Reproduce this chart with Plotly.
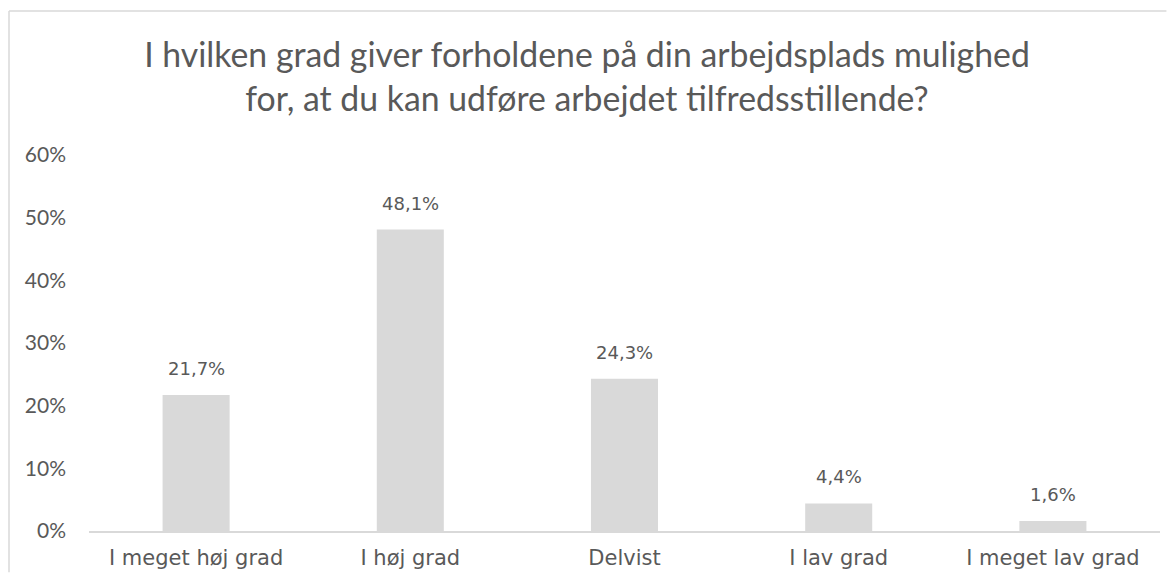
import plotly.graph_objects as go

categories = ["I meget høj grad", "I høj grad", "Delvist", "I lav grad", "I meget lav grad"]
values = [0.217, 0.481, 0.243, 0.044, 0.016]
labels = ["21,7%", "48,1%", "24,3%", "4,4%", "1,6%"]
y_ticks = [0, 0.1, 0.2, 0.3, 0.4, 0.5, 0.6]
y_tick_labels = ["0%", "10%", "20%", "30%", "40%", "50%", "60%"]

text_color = "#595959"
bar_color = "#d9d9d9"
label_font = dict(family="DejaVu Sans", size=18, color=text_color)

fig = go.Figure()
fig.add_trace(
    go.Bar(
        x=categories,
        y=values,
        marker_color=bar_color,
        marker_line_width=0,
        hoverinfo="skip",
    )
)

# data labels sit well above the bars, like Excel's
for cat, val, lab in zip(categories, values, labels):
    fig.add_annotation(
        x=cat, y=val, text=lab,
        showarrow=False, yanchor="bottom", yshift=14,
        font=label_font,
    )

# chart frame: only the top and left edges fall inside the picture
frame = dict(color="#d9d9d9", width=1.5)
fig.add_shape(type="line", xref="paper", yref="paper",
              x0=-0.0747, x1=1.006, y0=1.383, y1=1.383, line=frame)
fig.add_shape(type="line", xref="paper", yref="paper",
              x0=-0.0747, x1=-0.0747, y0=-0.11, y1=1.383, line=frame)

# the page body has an 8px margin all round, so keep the figure 16px smaller
# than the window to avoid scrolling
fig.update_layout(
    title=dict(
        text="I hvilken grad giver forholdene på din arbejdsplads mulighed<br>for, at du kan udføre arbejdet tilfredsstillende?",
        x=579 / 1159, xanchor="center", xref="container",
        y=1 - 59 / 565, yanchor="top", yref="container",
        font=dict(family="Lato", size=33.8, color=text_color),
    ),
    width=1159,
    height=565,
    margin=dict(l=81, r=7, t=147, b=42),
    plot_bgcolor="white",
    paper_bgcolor="white",
    bargap=0.687,
    showlegend=False,
)
fig.update_xaxes(
    showline=True, linecolor="#d9d9d9", linewidth=1.5,
    showgrid=False, ticks="", automargin=False,
    tickfont=dict(family="DejaVu Sans", size=21, color=text_color),
    ticklabelstandoff=7,
)
fig.update_yaxes(
    range=[0, 0.6], tickvals=y_ticks, ticktext=y_tick_labels,
    showgrid=False, zeroline=False, showline=False, ticks="", automargin=False,
    tickfont=dict(family="Lato", size=21, color=text_color),
    ticklabelstandoff=22,
)

fig.write_html("out.html")
